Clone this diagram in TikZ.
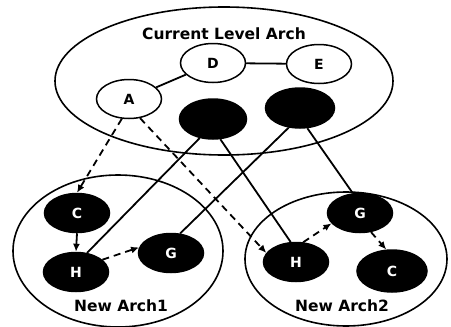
\documentclass[tikz,border=0pt]{standalone}
\usepackage{fontspec}
\setmainfont{DejaVu Sans}
\usetikzlibrary{arrows.meta,shapes.geometric}

\tikzset{
    archnode/.style={ellipse,draw,line width=1.5pt,inner sep=0pt,
        minimum width=65pt,minimum height=39pt,font=\fontsize{14}{16}\selectfont\bfseries},
    lightnode/.style={archnode,fill=white},
    darknode/.style={archnode,fill=black,text=white},
    archregion/.style={ellipse,draw,line width=1.6pt,inner sep=0pt},
    archtitle/.style={font=\fontsize{15.5}{18}\selectfont\bfseries},
    maps/.style={line width=1.8pt,dash pattern=on 7pt off 5pt,->},
    keeps/.style={line width=1.8pt},
}

\begin{document}
\begin{tikzpicture}[x=1pt,y=-1pt,>={Latex[length=8pt,width=7pt]}]
    \useasboundingbox (0,0) rectangle (451,327);

    % the three architectures
    \node [archregion,minimum width=338pt,minimum height=148pt] (cur)  at (224,81)  {};
    \node [archregion,minimum width=210pt,minimum height=152pt] (new1) at (118,251) {};
    \node [archregion,minimum width=202pt,minimum height=134pt] (new2) at (346,259) {};

    \node [archtitle] (curlbl)  at (224,34)  {Current Level Arch};
    \node [archtitle] (new1lbl) at (121,306) {New Arch1};
    \node [archtitle] (new2lbl) at (342,306) {New Arch2};

    % current level
    \node [lightnode] (A) at (129,99) {A};
    \node [lightnode] (D) at (213,63) {D};
    \node [lightnode] (E) at (319,64) {E};
    \node [darknode,minimum width=67pt,minimum height=40pt] (P) at (213,119) {};
    \node [darknode,minimum width=69pt,minimum height=40pt] (Q) at (300,108) {};

    \draw [keeps] (A) -- (D);
    \draw [keeps] (D) -- (E);

    % new levels
    \node [darknode] (C1) at (77,213)  {C};
    \node [darknode] (H1) at (76,272)  {H};
    \node [darknode] (G1) at (171,253) {G};
    \node [darknode] (H2) at (296,262) {H};
    \node [darknode] (G2) at (360,213) {G};
    \node [darknode,minimum width=70pt,minimum height=42pt] (C2) at (392,271) {C};

    \draw [keeps] (P.235) -- (H1.60);
    \draw [keeps] (P.290) -- (H2.105);
    \draw [keeps] (Q.240) -- (G1.65);
    \draw [keeps] (Q.290) -- (G2.110);

    \draw [maps] (A.250) -- (C1.north);
    \draw [maps] (A.300) -- (H2.163);
    \draw [keeps,->] (C1.south) -- (H1.north);
    \draw [maps] (H1.25) -- (G1.170);
    \draw [maps] (H2.70) -- (G2.200);
    \draw [maps] (G2.300) -- (C2.105);

\end{tikzpicture}
\end{document}
